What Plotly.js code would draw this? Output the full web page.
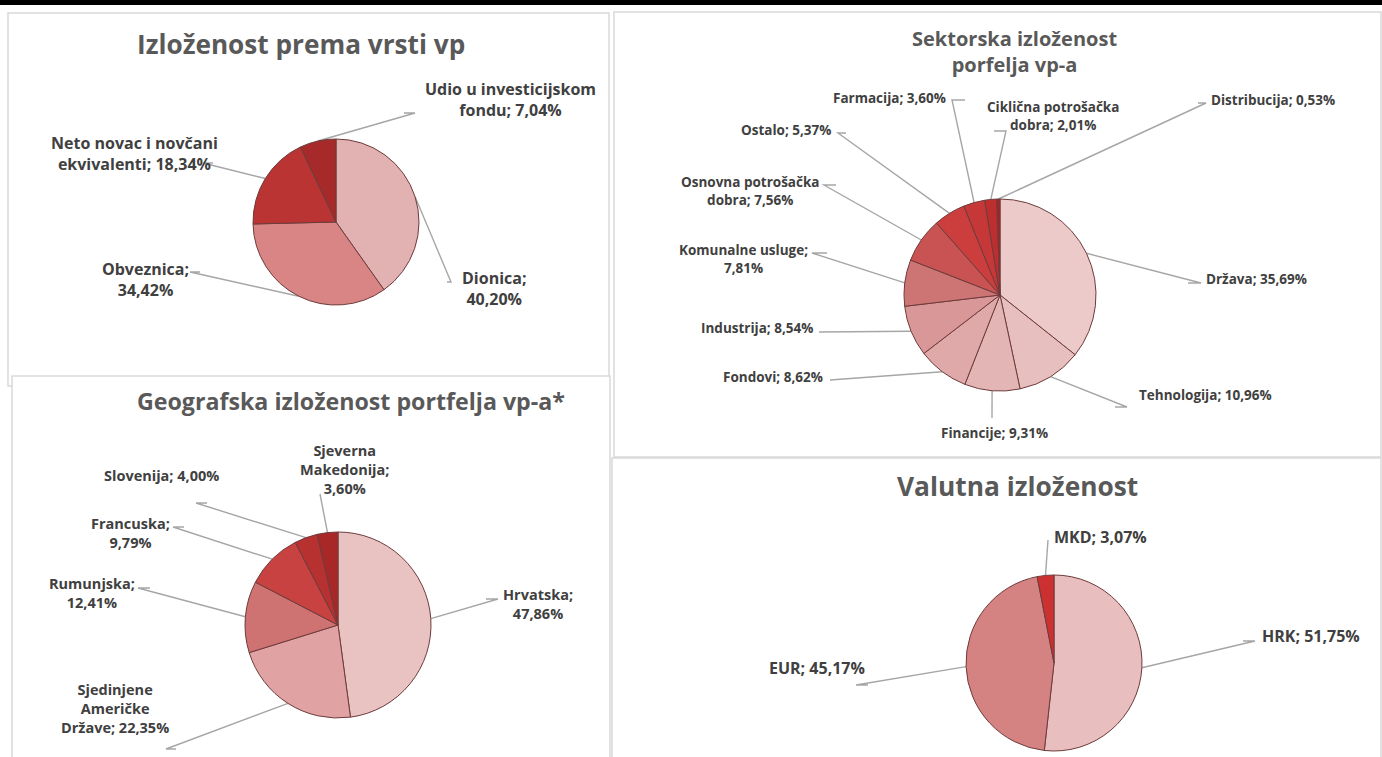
<!DOCTYPE html>
<html>
<head>
<meta charset="utf-8">
<script src="https://cdn.plot.ly/plotly-3.0.1.min.js"></script>
<style>html,body{margin:0;padding:0;background:#fff;}#chart{width:1382px;height:757px;}</style>
</head>
<body>
<div id="chart"></div>
<script>
// ---------- DATA ----------
const typeCategories = ["Dionica", "Obveznica", "Neto novac i novčani ekvivalenti", "Udio u investicijskom fondu"];
const typeValues = [40.20, 34.42, 18.34, 7.04];

const sectorCategories = ["Država", "Tehnologija", "Financije", "Fondovi", "Industrija", "Komunalne usluge",
  "Osnovna potrošačka dobra", "Ostalo", "Farmacija", "Ciklična potrošačka dobra", "Distribucija"];
const sectorValues = [35.69, 10.96, 9.31, 8.62, 8.54, 7.81, 7.56, 5.37, 3.60, 2.01, 0.53];

const geoCategories = ["Hrvatska", "Sjedinjene Američke Države", "Rumunjska", "Francuska", "Slovenija", "Sjeverna Makedonija"];
const geoValues = [47.86, 22.35, 12.41, 9.79, 4.00, 3.60];

const currencyCategories = ["HRK", "EUR", "MKD"];
const currencyValues = [51.75, 45.17, 3.07];

const titles = ["Izloženost prema vrsti vp", "Sektorska izloženost<br>porfelja vp-a",
  "Geografska izloženost portfelja vp-a*", "Valutna izloženost"];

// ---------- STYLE / LAYOUT ----------
const W = 1382, H = 757;
const FONT = '"Open Sans", "Noto Sans", Lato, sans-serif';
const LABEL_COLOR = '#404040';
const TITLE_COLOR = '#595959';
const LINE_COLOR = '#a6a6a6';

const typeColors = ['#e2b2b2', '#d98585', '#ba3434', '#a62a2a'];
const sectorColors = ['#edcaca', '#e8bfbf', '#e4b5b5', '#e0a9a9', '#d99797', '#cd7474', '#c95252', '#cc3d3d', '#c63737', '#bd2f2f', '#a82222'];
const geoColors = ['#e9c2c2', '#e0a2a2', '#cf7272', '#c84242', '#b83131', '#a82828'];
const currencyColors = ['#e8bebe', '#d48282', '#cc3030'];

function fmt(v) { return v.toFixed(2).replace('.', ','); }

// each pie: centre/radius in px; label layout: [text template, textX, textY, anchor path points before tip]
const pies = [
  { names: typeCategories, values: typeValues, colors: typeColors, cx: 336, cy: 222, r: 83, size: 16,
    labels: [
      ["{n};<br>{v}", 494, 288, [[447, 282], [451, 282]]],
      ["{n};<br>{v}", 145, 279, [[200, 272], [190, 272]]],
      ["Neto novac i novčani<br>ekvivalenti; {v}", 134, 153, [[213, 163], [203, 163]]],
      ["Udio u investicijskom<br>fondu; {v}", 510, 99, [[404, 113], [415, 113]]]
    ]},
  { names: sectorCategories, values: sectorValues, colors: sectorColors, cx: 1000, cy: 295, r: 96, size: 13.5,
    labels: [
      ["{n}; {v}", 1256, 279, [[1188, 283], [1201, 283]]],
      ["{n}; {v}", 1205, 395, [[1115, 407], [1127, 407]]],
      ["{n}; {v}", 994, 433, [[992, 418]]],
      ["{n}; {v}", 773, 377, [[830, 380]]],
      ["{n}; {v}", 757, 328, [[819, 332]]],
      ["Komunalne usluge;<br>{v}", 743, 259, [[827, 253], [812, 253]]],
      ["Osnovna potrošačka<br>dobra; {v}", 750, 191, [[836, 185], [824, 185]]],
      ["{n}; {v}", 786, 130, [[846, 133], [838, 133]]],
      ["{n}; {v}", 889, 98, [[965, 100], [952, 100]]],
      ["Ciklična potrošačka<br>dobra; {v}", 1053, 116, [[994, 131], [1006, 131]]],
      ["{n}; {v}", 1273, 100, [[1198, 103], [1206, 103]]]
    ]},
  { names: geoCategories, values: geoValues, colors: geoColors, cx: 338, cy: 625, r: 93, size: 14.5,
    labels: [
      ["{n};<br>{v}", 538, 604, [[486, 599], [498, 599]]],
      ["Sjedinjene<br>Američke<br>Države; {v}", 115, 708, [[176, 749], [166, 749]]],
      ["{n};<br>{v}", 92, 593, [[150, 588], [138, 588]]],
      ["{n};<br>{v}", 130, 533, [[184, 527], [173, 527]]],
      ["{n}; {v}", 161, 475, [[207, 503], [196, 503]]],
      ["Sjeverna<br>Makedonija;<br>{v}", 344, 469, [[320, 494]]]
    ]},
  { names: currencyCategories, values: currencyValues, colors: currencyColors, cx: 1054, cy: 663, r: 88, size: 16,
    labels: [
      ["{n}; {v}", 1311, 636, [[1243, 641], [1255, 641]]],
      ["{n}; {v}", 817, 668, [[868, 685], [856, 685]]],
      ["{n}; {v}", 1100, 537, [[1048, 540]]]
    ]}
];

const titleDefs = [
  { x: 301, y: 44, size: 26.2 },
  { x: 1014, y: 51, size: 20 },
  { x: 351, y: 401, size: 23.2 },
  { x: 1017, y: 486, size: 26.3 }
];

const panels = [
  [8, 13, 609, 386], [614, 12, 1381, 457], [12, 376, 610, 760], [612, 458, 1381, 760]
];

// ---------- BUILD ----------
const traces = [];
const shapes = [];
const annotations = [];

shapes.push({ type: 'rect', xref: 'x', yref: 'y', x0: 0, x1: W, y0: 0, y1: 5, fillcolor: '#000', line: { width: 0 }, layer: 'below' });
panels.forEach(p => shapes.push({ type: 'rect', xref: 'x', yref: 'y', x0: p[0], y0: p[1], x1: p[2], y1: p[3],
  fillcolor: '#fff', line: { color: '#d9d9d9', width: 1.5 }, layer: 'below' }));

pies.forEach(p => {
  traces.push({
    type: 'pie', labels: p.names, values: p.values, sort: false, direction: 'clockwise', rotation: 0,
    marker: { colors: p.colors, line: { color: '#6e3b3b', width: 1 } },
    textinfo: 'none', hoverinfo: 'label+percent', showlegend: false,
    domain: { x: [(p.cx - p.r) / W, (p.cx + p.r) / W], y: [1 - (p.cy + p.r) / H, 1 - (p.cy - p.r) / H] }
  });
  const total = p.values.reduce((a, b) => a + b, 0);
  let cum = 0;
  p.values.forEach((v, i) => {
    const mid = (cum + v / 2) / total * 2 * Math.PI;
    cum += v;
    const tx = p.cx + p.r * Math.sin(mid), ty = p.cy - p.r * Math.cos(mid);
    const L = p.labels[i];
    const pts = L[3].concat([[tx, ty]]);
    const path = 'M ' + pts.map(q => q[0].toFixed(1) + ' ' + q[1].toFixed(1)).join(' L ');
    shapes.push({ type: 'path', xref: 'x', yref: 'y', path: path, line: { color: LINE_COLOR, width: 1.4 }, layer: 'below' });
    annotations.push({
      xref: 'x', yref: 'y', x: L[1], y: L[2], xanchor: 'center', yanchor: 'middle', showarrow: false,
      text: L[0].replace('{n}', p.names[i]).replace('{v}', fmt(v) + '%'),
      font: { family: FONT, size: p.size, color: LABEL_COLOR, weight: 'bold' }, align: 'center'
    });
  });
});

titleDefs.forEach((t, i) => annotations.push({
  xref: 'x', yref: 'y', x: t.x, y: t.y, xanchor: 'center', yanchor: 'middle', showarrow: false,
  text: '<b>' + titles[i] + '</b>', font: { family: FONT, size: t.size, color: TITLE_COLOR }, align: 'center'
}));

const layout = {
  width: W, height: H, margin: { l: 0, r: 0, t: 0, b: 0 }, paper_bgcolor: '#fff', plot_bgcolor: 'rgba(0,0,0,0)',
  xaxis: { range: [0, W], visible: false, fixedrange: true },
  yaxis: { range: [H, 0], visible: false, fixedrange: true },
  shapes: shapes, annotations: annotations, showlegend: false,
  font: { family: FONT }
};

// invisible trace so the cartesian axes exist for shapes/annotations
traces.unshift({ type: 'scatter', x: [0, W], y: [0, H], mode: 'markers', marker: { opacity: 0 }, hoverinfo: 'skip', showlegend: false });

Plotly.newPlot('chart', traces, layout, { displayModeBar: false, staticPlot: true });
</script>
</body>
</html>
